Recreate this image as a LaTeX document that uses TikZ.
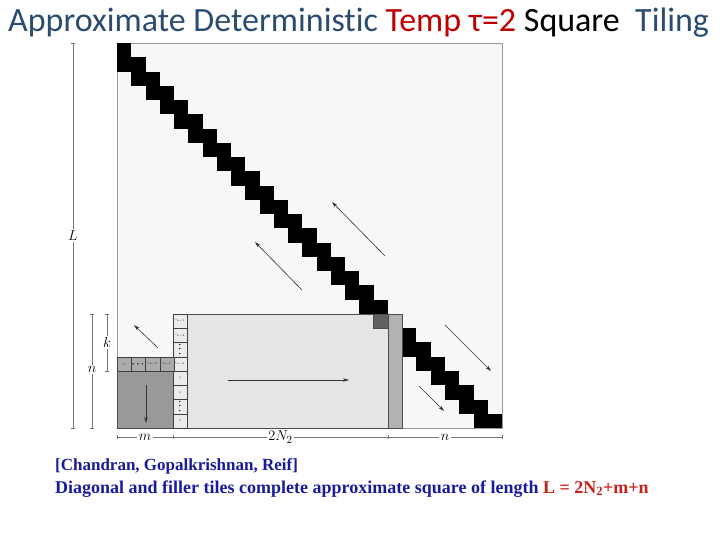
\documentclass[tikz,border=0pt]{standalone}
\usepackage{fontspec}
\setmainfont{Liberation Serif}
\newfontfamily\titlefont[Ligatures=NoCommon]{Carlito}
\usetikzlibrary{arrows.meta, positioning}

\definecolor{titleblue}{HTML}{2B4B6F}
\definecolor{titlered}{HTML}{C00000}
\definecolor{capblue}{HTML}{1A1A9C}
\definecolor{capred}{HTML}{C8201A}

\tikzset{
  dimline/.style={draw=black!55, line width=0.5pt, {Bar[width=4pt]}-{Bar[width=4pt]}},
  dimlabel/.style={fill=white, inner sep=1.5pt, font=\fontsize{15}{17}\selectfont},
  cellbox/.style={draw=black!75, line width=0.5pt},
  celltext/.style={inner sep=0pt, scale=0.55, font=\tiny},
  celldots/.style={inner sep=0pt, font=\fontsize{9}{10}\selectfont\boldmath},
  flow/.style={-{Stealth[length=6pt, width=3.5pt]}, draw=black!80, line width=0.6pt},
}

\newcommand{\tsz}{14.26}

\begin{document}
\begin{tikzpicture}[x=1pt, y=-1pt]
  \useasboundingbox (0,0) rectangle (720,540);

  % Title
  \node[anchor=base west, inner sep=0pt, font=\titlefont\fontsize{34}{38}\selectfont] (title) at (8,32)
    {\textcolor{titleblue}{Approximate Deterministic} \textcolor{titlered}{Temp τ=2} Square\ \ \textcolor{titleblue}{Tiling}};

  % Square
  \draw[draw=black!40, fill=black!3, line width=0.5pt] (117,43) rectangle (502,428);

  % Diagonal tiles
  \foreach \i in {0,...,18}
    \fill[black] (117+\tsz*\i, 43+\tsz*\i) rectangle ++(\tsz, 2*\tsz);
  \foreach \i in {20,...,25}
    \fill[black] (117+\tsz*\i, 43+\tsz*\i) rectangle ++(\tsz, 2*\tsz);
  \fill[black] (117+\tsz*26, 43+\tsz*26) rectangle (502,428);

  % Filler region
  \draw[draw=black!70, fill=black!10, line width=0.6pt] (187,314) rectangle (388,428);
  \draw[draw=black!70, fill=black!62, line width=0.6pt] (117+\tsz*18, 314) rectangle (388,314+\tsz);
  \draw[draw=black!70, fill=black!30, line width=0.6pt] (388,314) rectangle (402,428);
  \draw[draw=black!70, fill=black!40, line width=0.6pt] (117,357) rectangle (173,428);

  % Column and row cells
  \foreach \j in {0,...,7}
    \draw[cellbox, fill=black!8] (173, 314+\tsz*\j) rectangle ++(\tsz, \tsz);
  \foreach \j in {0,...,3}
    \draw[cellbox, fill=black!33] (117+\tsz*\j, 357) rectangle ++(\tsz, \tsz);

  \node[celltext] (c1) at (180,321) {$r_{n-1}$};
  \node[celltext] (c2) at (180,335.5) {$r_{n-2}$};
  \node[celldots, rotate=90] (c3) at (180,349.5) {$\cdots$};
  \node[celltext] (c4) at (180,364) {$r_{n-k}$};
  \node[celltext] (c5) at (180,378) {$0$};
  \node[celltext] (c6) at (180,392.5) {$0$};
  \node[celldots, rotate=90] (c7) at (180,406.5) {$\cdots$};
  \node[celltext] (c8) at (180,421) {$0$};

  \node[celltext] (r1) at (124,364) {$r_0$};
  \node[celldots] (r2) at (138,364) {$\cdots$};
  \node[celltext] (r3) at (152,364) {$r_{m-2}$};
  \node[celltext] (r4) at (166,364) {$r_{m-1}$};

  % Growth arrows
  \coordinate (a1s) at (385,256); \coordinate (a1e) at (332,202);
  \coordinate (a2s) at (302,290); \coordinate (a2e) at (255,242);
  \coordinate (a3s) at (158,348); \coordinate (a3e) at (134,325);
  \coordinate (a4s) at (146,385); \coordinate (a4e) at (146,423);
  \coordinate (a5s) at (228,380); \coordinate (a5e) at (349,380);
  \coordinate (a6s) at (445,325); \coordinate (a6e) at (491,371);
  \coordinate (a7s) at (419,386); \coordinate (a7e) at (444,411);
  \foreach \k in {1,...,7}
    \draw[flow] (a\k s) -- (a\k e);

  % Dimensions
  \coordinate (b0) at (117,437); \coordinate (b1) at (173,437);
  \coordinate (b2) at (388,437); \coordinate (b3) at (502,437);
  \draw[dimline] (b0) -- node[dimlabel] (lm) {$m$} (b1);
  \draw[dimline] (b1) -- node[dimlabel] (lN) {$2N_2$} (b2);
  \draw[dimline] (b2) -- node[dimlabel] (ln) {$n$} (b3);

  \coordinate (L0) at (73,43); \coordinate (L1) at (73,428);
  \coordinate (n0) at (92,314); \coordinate (n1) at (92,428);
  \coordinate (k0) at (107,314); \coordinate (k1) at (107,371);
  \draw[dimline] (L0) -- node[dimlabel] (lL) {$L$} (L1);
  \draw[dimline] (n0) -- node[dimlabel, pos=0.49] (lnn) {$n$} (n1);
  \draw[dimline] (k0) -- node[dimlabel] (lk) {$k$} (k1);

  % Caption
  \node[anchor=base west, inner sep=0pt, text=capblue, font=\bfseries\fontsize{17}{19}\selectfont] (cap1) at (55,470)
    {[Chandran, Gopalkrishnan, Reif]};
  \node[anchor=base west, inner sep=0pt, text=capblue, font=\bfseries\fontsize{18}{20}\selectfont] (cap2) at (55,493)
    {Diagonal and filler tiles complete approximate square of length \textcolor{capred}{L = 2N\textsubscript{2}+m+n}};
\end{tikzpicture}
\end{document}
